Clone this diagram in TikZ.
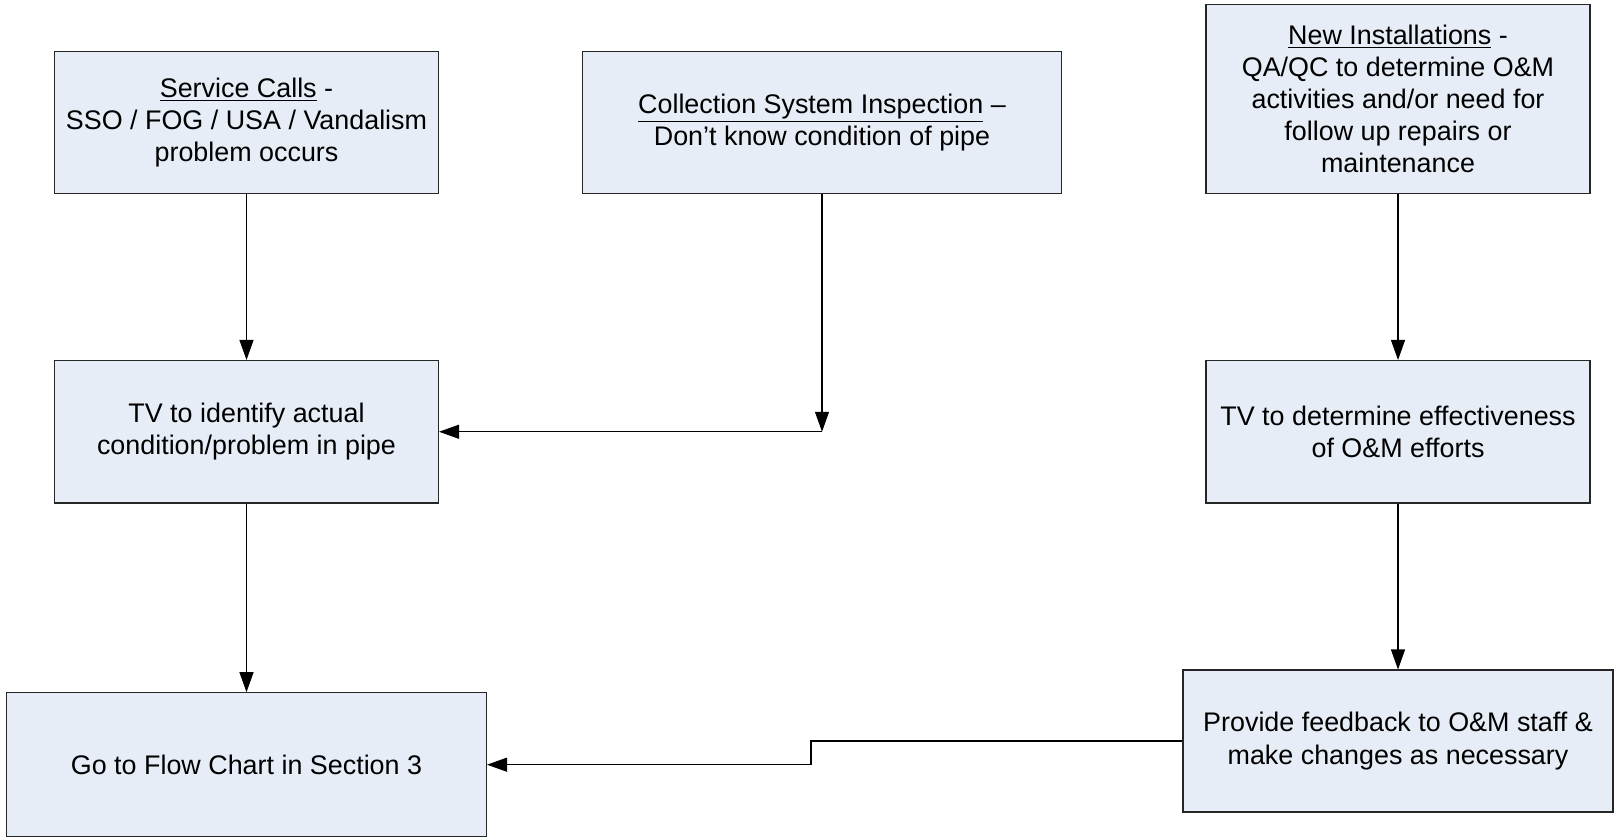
\documentclass[tikz,border=0pt]{standalone}
\usepackage{fontspec}
\setmainfont{Liberation Sans}
\usetikzlibrary{arrows.meta}
\definecolor{boxfill}{RGB}{231,237,247}
\begin{document}
\begin{tikzpicture}[
  box/.style={draw=black!85, fill=boxfill, line width=0.6pt, align=center,
    minimum width=7.68cm, minimum height=2.84cm, inner sep=0pt,
    font=\fontsize{15.3}{18.3}\selectfont},
  conn/.style={line width=0.6pt, -{Triangle[length=0.4cm, width=0.28cm]}}
]
  \useasboundingbox (0,0) rectangle (32.28,16.76);

  % Top row - the three triggers
  \node[box] (svc) at (4.93,14.31) {\underline{Service Calls} -\\SSO / FOG / USA / Vandalism\\problem occurs};
  \node[box, minimum width=9.57cm] (insp) at (16.44,14.31) {\underline{Collection System Inspection} --\\Don’t know condition of pipe};
  \node[box, minimum height=3.78cm] (newinst) at (27.96,14.78) {\underline{New Installations} -\\QA/QC to determine O\&M\\activities and/or need for\\follow up repairs or\\maintenance};

  % Middle row
  \node[box, minimum height=2.85cm] (tvid) at (4.93,8.125) {TV to identify actual\\condition/problem in pipe};
  \node[box, minimum height=2.85cm] (tveff) at (27.96,8.125) {TV to determine effectiveness\\of O\&M efforts};

  % Bottom row
  \node[box, minimum width=9.6cm, minimum height=2.88cm] (goto) at (4.93,1.466) {Go to Flow Chart in Section 3};
  \node[box, minimum width=8.6cm] (fdbk) at (27.96,1.94) {Provide feedback to O\&M staff \&\\make changes as necessary};

  \coordinate (jn) at (16.44,8.125);
  \coordinate (stp) at (16.22,0);

  % Connectors
  \draw[conn] (svc) -- (tvid);
  \draw[conn] (insp) -- (jn);
  \draw[conn] (jn) -- (tvid);
  \draw[conn] (tvid) -- (goto);
  \draw[conn] (newinst) -- (tveff);
  \draw[conn] (tveff) -- (fdbk);
  \draw[conn] (fdbk.west) -- (stp |- fdbk.west) -- (stp |- goto.east) -- (goto.east);
\end{tikzpicture}
\end{document}
